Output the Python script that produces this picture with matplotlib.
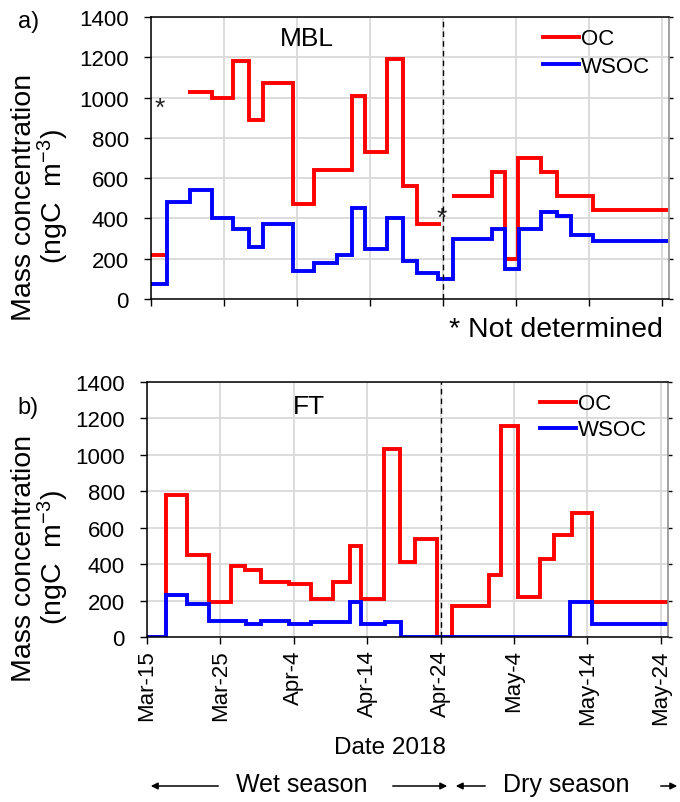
import numpy as np
import matplotlib
matplotlib.use('Agg')
from matplotlib import pyplot as plt

plt.rcParams['font.family'] = ['Liberation Sans', 'DejaVu Sans']
plt.rcParams['mathtext.fontset'] = 'custom'
plt.rcParams['mathtext.rm'] = 'Liberation Sans'
plt.rcParams['mathtext.it'] = 'Liberation Sans:italic'

# x is days since Mar-15 2018
tick_days = [0, 10, 20, 30, 40, 50, 60, 70]
tick_labels = ['Mar-15', 'Mar-25', 'Apr-4', 'Apr-14', 'Apr-24', 'May-4', 'May-14', 'May-24']
season_split = 40  # Apr-24

# a) MBL
mbl_oc_edges = [0, 1.9, 5.1, 8.3, 11.2, 13.5, 15.4, 19.5, 22.4, 27.5, 29.4, 32.4,
                34.6, 36.5, 39.7, 41.3, 46.8, 48.5, 50.3, 53.4, 55.7, 60.6, 70.9]
mbl_oc = [220, np.nan, 1030, 1000, 1180, 890, 1070, 470, 640, 1010, 730, 1190,
          560, 370, np.nan, 510, 630, 200, 700, 630, 510, 440]
mbl_wsoc_edges = [0, 2.2, 5.3, 8.3, 11.3, 13.5, 15.4, 19.5, 22.4, 25.5, 27.5, 29.4,
                  32.4, 34.6, 36.5, 39.4, 41.4, 46.8, 48.5, 50.5, 53.4, 55.6, 57.6, 60.6, 70.9]
mbl_wsoc = [75, 480, 540, 400, 350, 260, 370, 140, 180, 220, 450, 250,
            400, 190, 130, 100, 300, 350, 150, 350, 430, 410, 320, 290]
# not determined OC samples (x, y of the asterisk)
nd_x = [1.2, 39.9]
nd_y = [950, 405]

# b) FT
ft_oc_edges = [0, 2.6, 5.5, 8.5, 11.4, 13.4, 15.5, 19.3, 22.3, 25.3, 27.6, 29.2,
               32.3, 34.5, 36.5, 39.5, 41.6, 46.6, 48.3, 50.6, 53.5, 55.5, 57.9, 60.7, 71.0]
ft_oc = [0, 780, 450, 190, 390, 370, 300, 290, 210, 300, 500, 210,
         1030, 410, 540, 0, 170, 340, 1160, 220, 430, 560, 680, 190]
ft_wsoc_edges = [0, 2.6, 5.5, 8.5, 13.5, 15.6, 19.3, 22.4, 27.6, 29.2, 32.4, 34.6,
                 57.6, 60.7, 71.0]
ft_wsoc = [0, 230, 180, 90, 70, 90, 70, 80, 190, 70, 80, 0, 190, 70]

fs = 16
fig = plt.figure(figsize=(6.8, 8.03), dpi=100)
ax1 = fig.add_axes([151/680, 1-300/803, 518/680, 282/803])
ax2 = fig.add_axes([147/680, 1-638/803, 521/680, 255/803])


def style_axis(ax):
    ax.set_xlim(0, 71)
    ax.set_ylim(0, 1400)
    ax.set_yticks(range(0, 1401, 200))
    ax.set_xticks(tick_days)
    ax.grid(True, color='#d9d9d9', lw=1.3)
    ax.set_axisbelow(True)
    ax.tick_params(axis='both', direction='out', length=5, width=1, labelsize=fs)
    ax.tick_params(axis='y', pad=11)
    ax.tick_params(axis='x', pad=4)
    ax.tick_params(axis='y', which='major', right=True)
    for s in ax.spines.values():
        s.set_color('black')
        s.set_linewidth(1.1)
    ax.spines['right'].set_color('#888888')
    ax.axvline(season_split, color='black', ls=(0, (4, 3)), lw=1)


for ax in (ax1, ax2):
    style_axis(ax)
    for t in ax.yaxis.get_major_ticks():
        t.tick2line.set_color('#888888')
        t.tick2line.set_markersize(3)

ax1.stairs(mbl_oc, mbl_oc_edges, baseline=None, color='red', lw=2.8, label='OC')
ax1.stairs(mbl_wsoc, mbl_wsoc_edges, baseline=None, color='blue', lw=2.8, label='WSOC')
ax1.set_xticklabels([])
for x, y in zip(nd_x, nd_y):
    ax1.text(x, y, '*', fontsize=19, ha='center', va='center', color='#222222')
ax1.text(0.30, 0.925, 'MBL', transform=ax1.transAxes, fontsize=19, ha='center', va='center')

ax2.stairs(ft_oc, ft_oc_edges, baseline=None, color='red', lw=2.8, label='OC')
ax2.stairs(ft_wsoc, ft_wsoc_edges, baseline=None, color='blue', lw=2.8, label='WSOC')
ax2.set_xticklabels(tick_labels, rotation=90)
ax2.text(0.31, 0.905, 'FT', transform=ax2.transAxes, fontsize=19, ha='center', va='center')

ax1.legend(loc='upper left', bbox_to_anchor=(0.757, 0.96), frameon=False, fontsize=fs,
           handlelength=1.6, handletextpad=0.1, borderpad=0, borderaxespad=0, labelspacing=0.3)
ax2.legend(loc='upper left', bbox_to_anchor=(0.755, 0.955), frameon=False, fontsize=fs,
           handlelength=1.6, handletextpad=0.1, borderpad=0, borderaxespad=0, labelspacing=0.22)

ylab = 'Mass concentration\n(ngC  m$^{-3}$)'
fig.text(41/680, 1-197/803, ylab, rotation=90, ha='center', va='center', fontsize=20.5,
         multialignment='center', linespacing=0.95)
fig.text(41/680, 1-558/803, ylab, rotation=90, ha='center', va='center', fontsize=20.5,
         multialignment='center', linespacing=0.95)
fig.text(29/680, 1-22/803, 'a)', ha='center', va='center', fontsize=17)
fig.text(28/680, 1-408/803, 'b)', ha='center', va='center', fontsize=17)
fig.text(556/680, 1-330/803, '* Not determined', ha='center', va='center', fontsize=20.5)
fig.text(390/680, 1-748/803, 'Date 2018', ha='center', va='center', fontsize=17.5)

# season arrows
fig.text(302/680, 1-785/803, 'Wet season', ha='center', va='center', fontsize=18)
fig.text(566/680, 1-785/803, 'Dry season', ha='center', va='center', fontsize=18)
arrows = [(221, 148), (390, 450), (488, 453), (658, 680)]
for x0, x1 in arrows:
    fig.add_artist(matplotlib.patches.FancyArrowPatch(
        (x0/680, 1-787/803), (x1/680, 1-787/803), transform=fig.transFigure,
        arrowstyle='-|>', mutation_scale=10, color='black', lw=1.1))

fig.savefig('out.png', dpi=100)
